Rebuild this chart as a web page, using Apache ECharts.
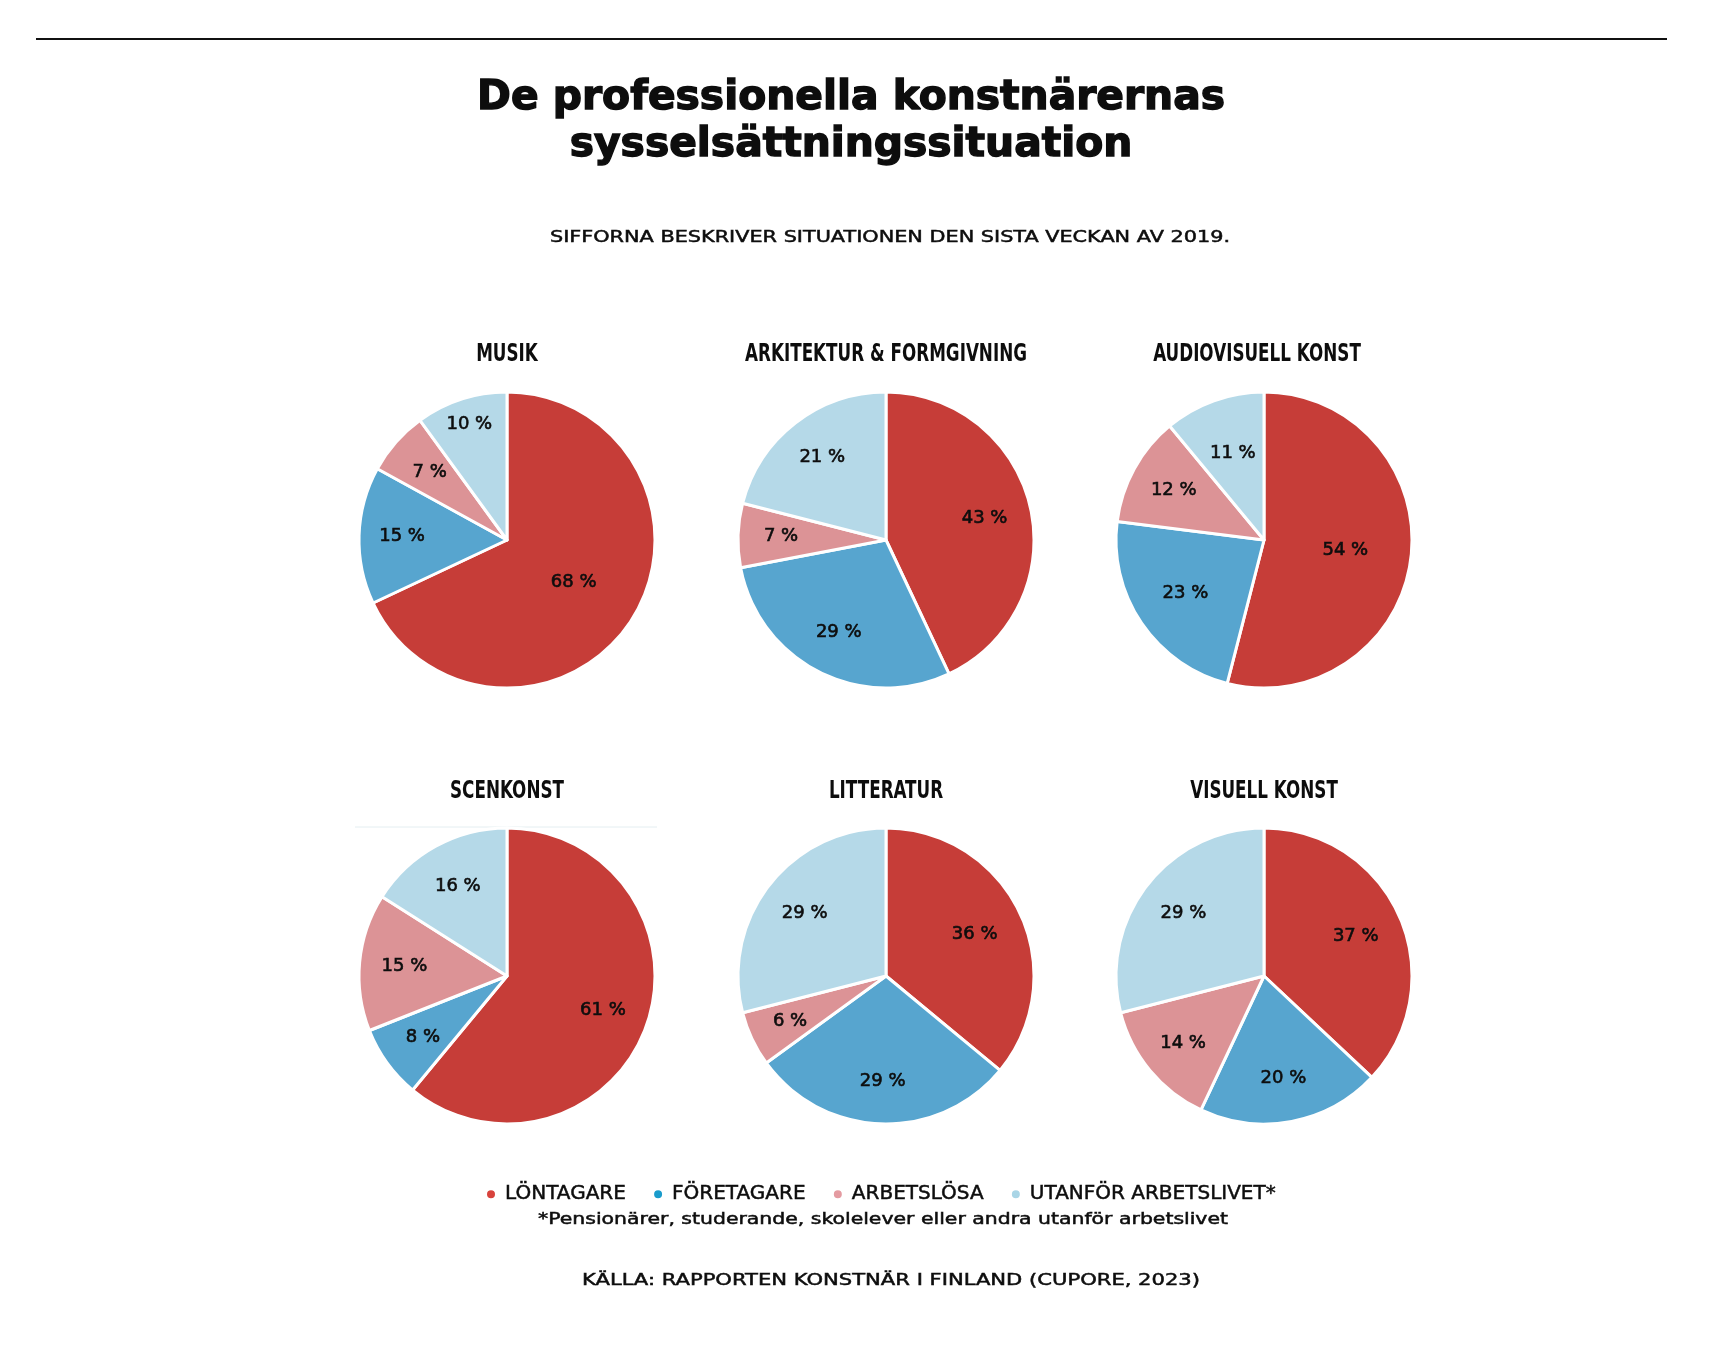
<!DOCTYPE html>
<html><head><meta charset="utf-8">
<script src="https://cdn.jsdelivr.net/npm/echarts@6/dist/echarts.min.js"></script>
<style>html,body{margin:0;padding:0;background:#fff}#c{width:1716px;height:1352px}</style>
</head><body><div id="c"></div>
<script>
// ---- data ----
const categories = ['MUSIK', 'ARKITEKTUR & FORMGIVNING', 'AUDIOVISUELL KONST', 'SCENKONST', 'LITTERATUR', 'VISUELL KONST'];
const groups = ['LÖNTAGARE', 'FÖRETAGARE', 'ARBETSLÖSA', 'UTANFÖR ARBETSLIVET*'];
const lontagare  = [68, 43, 54, 61, 36, 37];
const foretagare = [15, 29, 23, 8, 29, 20];
const arbetslosa = [7, 7, 12, 15, 6, 14];
const utanfor    = [10, 21, 11, 16, 29, 29];
const seriesValues = [lontagare, foretagare, arbetslosa, utanfor];

const titleText = ['De professionella konstnärernas', 'sysselsättningssituation'];
const subtitleText = 'SIFFORNA BESKRIVER SITUATIONEN DEN SISTA VECKAN AV 2019.';
const footnoteText = '*Pensionärer, studerande, skolelever eller andra utanför arbetslivet';
const sourceText = 'KÄLLA: RAPPORTEN KONSTNÄR I FINLAND (CUPORE, 2023)';

// ---- style ----
const sliceColors = ['#c63d38', '#57a5cf', '#dc9396', '#b5d9e8'];
const legendColors = ['#d8433c', '#1a9ccc', '#e49ba1', '#a9d5e6'];
const centers = [[507, 540], [886, 540], [1264, 540], [507, 976], [886, 976], [1264, 976]];
const R = 148;
const labelDist = [[76, 102, 100, 119], [98, 101, 102, 101], [79, 92, 100, 89], [99, 101, 100, 99], [95, 102, 103, 100], [97, 101, 102, 99]];
const titleDx = [0, 0, -7, 0, 0, 0];
const bodyFont = "'DejaVu Sans', sans-serif";
const condFont = "'DejaVu Sans Condensed', 'DejaVu Sans', sans-serif";
const ink = '#0d0d0d';

// text width fitting (horizontal scale so text spans the reference width)
const mctx = document.createElement('canvas').getContext('2d');
function fitScale(text, font, width) { mctx.font = font; return width / mctx.measureText(text).width; }

const chart = echarts.init(document.getElementById('c'), null, {renderer: 'canvas'});

const series = categories.map((cat, i) => {
  const vals = seriesValues.map(s => s[i]);
  const total = vals.reduce((a, b) => a + b, 0);
  let cum = 0;
  const data = groups.map((g, j) => {
    const mid = (cum + vals[j] / 2) / total;
    cum += vals[j];
    const th = mid * 2 * Math.PI;
    const d = labelDist[i][j] - R / 2;
    return {
      name: g, value: vals[j],
      label: {offset: [Math.sin(th) * d, -Math.cos(th) * d]}
    };
  });
  return {
    type: 'pie', name: cat,
    center: centers[i], radius: [0, R],
    startAngle: 90, clockwise: true,
    animation: false, silent: true,
    color: sliceColors,
    itemStyle: {borderColor: '#ffffff', borderWidth: 3},
    label: {
      show: true, position: 'inside', formatter: '{c} %',
      fontFamily: bodyFont, fontSize: 18, fontWeight: 'normal', color: ink,
      textBorderColor: ink, textBorderWidth: 0.6
    },
    labelLine: {show: false},
    emphasis: {disabled: true},
    data: data
  };
});

const titleFont = "bold 40px 'DejaVu Sans', sans-serif";
const titleScale = fitScale(titleText[0], titleFont, 748);
const subFont = "16px " + bodyFont;
const footFont = "16px " + bodyFont;
const pieTitleFont = "bold 25px " + condFont;
const pieTitleScale = fitScale(categories[1], pieTitleFont, 282);

function sText(text, x, y, font, sx, sw) {
  return {type: 'text', x: x, y: y, scaleX: sx, originX: 0, originY: 0,
    style: {text: text, font: font, fill: ink, stroke: sw ? ink : null, lineWidth: sw || 0,
      align: 'center', verticalAlign: 'middle'}};
}

const graphic = [
  {type: 'line', shape: {x1: 36, y1: 39, x2: 1667, y2: 39}, style: {stroke: '#111', lineWidth: 2}},
  {type: 'line', shape: {x1: 355, y1: 827, x2: 657, y2: 827}, style: {stroke: '#e4eef1', lineWidth: 1}},
  sText(titleText[0], 851, 99, titleFont, titleScale, 1.4),
  sText(titleText[1], 851, 146, titleFont, titleScale, 1.4),
  sText(subtitleText, 890, 238, subFont, fitScale(subtitleText, subFont, 680), 0.5),
  sText(footnoteText, 883, 1220, footFont, fitScale(footnoteText, footFont, 690), 0.5),
  sText(sourceText, 891, 1281, subFont, fitScale(sourceText, subFont, 618), 0.5)
];
const titleY = [354, 354, 354, 791, 791, 791];
categories.forEach((cat, i) => {
  graphic.push(sText(cat, centers[i][0] + titleDx[i], titleY[i], pieTitleFont, pieTitleScale, 0));
});

chart.setOption({
  backgroundColor: '#ffffff',
  animation: false,
  legend: {
    left: 480, top: 1179,
    orient: 'horizontal',
    icon: 'circle', itemWidth: 10, itemHeight: 10, itemGap: 26,
    selectedMode: false,
    textStyle: {fontFamily: bodyFont, fontSize: 20, fontWeight: 'normal', color: ink,
      textBorderColor: ink, textBorderWidth: 0.5, padding: [0, 0, 0, 4]},
    data: groups.map((g, j) => ({name: g, itemStyle: {color: legendColors[j]}}))
  },
  graphic: graphic,
  series: series
});
</script>
</body></html>
